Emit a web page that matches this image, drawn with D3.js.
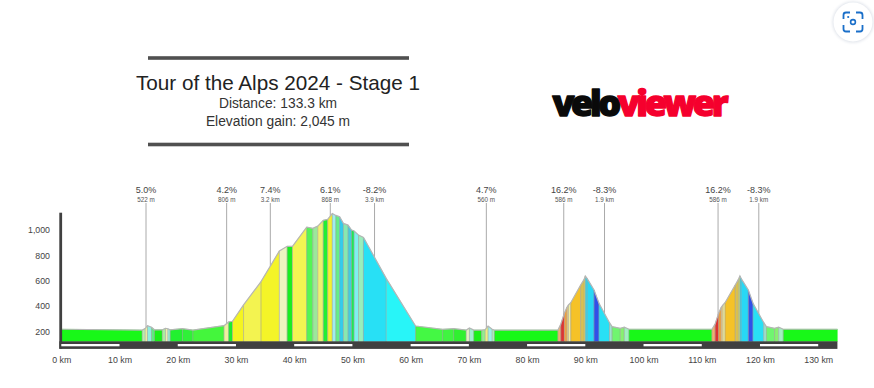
<!DOCTYPE html>
<html><head><meta charset="utf-8">
<script src="https://cdnjs.cloudflare.com/ajax/libs/d3/7.9.0/d3.min.js"></script>
<style>html,body{margin:0;padding:0;background:#fff;overflow:hidden}svg{display:block}text{font-family:"Liberation Sans",Arial,sans-serif}</style>
</head><body><svg id="c" width="874" height="388"></svg>
<script>
const profileKm=[0.1,13.9,14.4,14.8,15.5,16.0,17.35,17.9,18.3,18.7,20.8,22.6,27.95,28.75,29.4,31.3,34.3,37.45,38.8,39.7,42.15,43.2,44.05,45.0,45.75,46.55,47.15,47.8,48.45,49.25,49.85,50.3,51.05,51.9,55.8,60.85,65.5,67.4,69.55,70.1,70.85,72.2,72.8,73.3,74.0,74.4,85.3,85.8,86.4,86.85,87.1,87.5,89.2,89.8,90.0,90.3,91.5,92.35,94.15,94.6,96.0,96.7,97.5,111.75,112.3,112.9,113.35,113.65,114.0,115.75,116.3,116.55,116.75,118.0,118.8,120.65,121.1,122.5,123.2,124.0,133.3];
const profileEle=[216,210,222,245,232,212,212,224,220,212,221,210,245,274,279,408,592,834,871,871,1023,1013,1031,1076,1084,1131,1115,1105,1052,1039,1000,992,960,942,618,242,216,221,210,226,210,210,213,242,216,210,210,258,342,389,408,426,566,610,637,618,526,421,268,237,224,232,216,216,258,342,389,408,426,566,610,637,618,526,421,268,237,224,232,216,216];
const segmentColors=["#18f818","#b8eeb0","#f0f0a0","#90eee0","#60ee80","#18f018","#a8eea0","#f0f0b0","#a0eee0","#22f030","#30f038","#44f63c","#eef0a0","#18ee30","#f4f420","#f3f350","#f4f428","#eef4c0","#18ee20","#f3f552","#55f555","#9be89b","#f0f070","#22ee33","#f5f030","#9eeeee","#66ee88","#33ccee","#88e8b0","#44ccdd","#22e855","#7ff0f0","#99eebb","#28e0f5","#28f5f8","#44f844","#40f440","#30f030","#e4f0c0","#a0eed0","#18f018","#90ee90","#f0f080","#a0eee8","#b0eec0","#18f818","#f0b070","#dd3333","#f0a040","#f0d080","#f0f0a0","#f5c228","#d9c050","#f0e040","#28d8f5","#28d8f5","#3050e8","#28e0f5","#a0e0d0","#70f570","#88f070","#a0f0c0","#18f818","#f0b070","#dd3333","#f0a040","#f0d080","#f0f0a0","#f5c228","#d9c050","#f0e040","#28d8f5","#28d8f5","#3050e8","#28e0f5","#a0e0d0","#70f570","#88f070","#a0f0c0","#18f818"];
const xTickKm=[0,10,20,30,40,50,60,70,80,90,100,110,120,130];
const yTickEle=[200,400,600,800,1000];
const climbKm=[14.55,28.4,35.9,46.2,53.8,73,86.3,93.3,112.8,119.8];
const climbGrade=["5.0%","4.2%","7.4%","6.1%","-8.2%","4.7%","16.2%","-8.3%","16.2%","-8.3%"];
const climbSize=["522 m","806 m","3.2 km","868 m","3.9 km","560 m","586 m","1.9 km","586 m","1.9 km"];
const titleLines=["Tour of the Alps 2024 - Stage 1","Distance: 133.3 km","Elevation gain: 2,045 m"];

const svg=d3.select("#c");
const x=d3.scaleLinear().domain([0,130]).range([61.3,818.2]);
const y=d3.scaleLinear().domain([200,1000]).range([331.3,230]);
const baseEle=y.invert(341.5), ink="#444";
const eleAt=d3.scaleLinear().domain(profileKm).range(profileEle);
const fmt=d3.format(",");

const defs=svg.append("defs");
defs.append("filter").attr("id","soft").attr("x","-40%").attr("y","-40%").attr("width","180%").attr("height","180%")
  .append("feGaussianBlur").attr("stdDeviation",1.6);

// title block
[58,144.5].forEach(v=>svg.append("rect").attr("x",148).attr("y",v-1.8).attr("width",261).attr("height",3.6).attr("fill","#505050"));
svg.append("text").attr("x",278).attr("y",90).attr("text-anchor","middle").attr("font-size",20.7).attr("fill","#222").text(titleLines[0]);
svg.append("text").attr("x",278).attr("y",108).attr("text-anchor","middle").attr("font-size",13.8).attr("fill","#333").text(titleLines[1]);
svg.append("text").attr("x",278).attr("y",126).attr("text-anchor","middle").attr("font-size",13.8).attr("fill","#333").text(titleLines[2]);

// logo
const logo=svg.append("text").attr("x",552.5).attr("y",116).attr("font-size",36).attr("font-weight",800)
  .style("font-family","'Open Sans'").style("letter-spacing","-3.4px").attr("stroke-width",1.4).attr("stroke-linejoin","round");
logo.append("tspan").attr("fill","#0a0a0a").attr("stroke","#0a0a0a").text("velo");
logo.append("tspan").attr("fill","#f5002d").attr("stroke","#f5002d").text("viewer");

// lens button
const lens=svg.append("g").attr("transform","translate(853,22)");
lens.append("circle").attr("r",20.5).attr("fill","#dfe3ea").attr("filter","url(#soft)");
lens.append("circle").attr("r",19.5).attr("fill","#fff");
lens.append("path").attr("d","M-9.5,-3 V-7 Q-9.5,-9.5 -7,-9.5 H-3 M3,-9.5 H7 Q9.5,-9.5 9.5,-7 V-3 M9.5,3 V7 Q9.5,9.5 7,9.5 H3 M-3,9.5 H-7 Q-9.5,9.5 -9.5,7 V3")
  .attr("fill","none").attr("stroke","#1a6fc9").attr("stroke-width",1.8);
lens.append("circle").attr("r",2.4).attr("fill","none").attr("stroke","#1a6fc9").attr("stroke-width",1.6);
lens.append("circle").attr("cx",-4.8).attr("cy",-5).attr("r",1.1).attr("fill","#1a6fc9");

// climb callouts
climbKm.forEach((k,i)=>{
  svg.append("line").attr("x1",x(k)).attr("x2",x(k)).attr("y1",203).attr("y2",y(eleAt(k))).attr("stroke","#aaa").attr("stroke-width",1);
  svg.append("text").attr("x",x(k)).attr("y",192.5).attr("text-anchor","middle").attr("font-size",9).attr("fill",ink).text(climbGrade[i]);
  svg.append("text").attr("x",x(k)).attr("y",201.5).attr("text-anchor","middle").attr("font-size",6.3).attr("fill","#555").text(climbSize[i]);
});

// coloured gradient segments
const area=d3.area().x(d=>x(d[0])).y0(y(baseEle)).y1(d=>y(d[1]));
segmentColors.forEach((c,i)=>{
  const pts=[[profileKm[i],profileEle[i]],[profileKm[i+1],profileEle[i+1]]];
  svg.append("path").attr("d",area(pts)).attr("fill",c).attr("stroke",c).attr("stroke-width",0.3);
});
profileKm.slice(1,-1).forEach((k,i)=>{
  svg.append("line").attr("x1",x(k)).attr("x2",x(k)).attr("y1",y(profileEle[i+1])).attr("y2",y(baseEle)).attr("stroke","#999").attr("stroke-opacity",0.55).attr("stroke-width",1);
});
svg.append("path").attr("d",d3.line().x((d,i)=>x(profileKm[i])).y((d,i)=>y(profileEle[i]))(profileKm)).attr("fill","none").attr("stroke","#b5b5b5").attr("stroke-width",1.2);

// axis band
svg.append("rect").attr("x",59.3).attr("y",341.3).attr("width",x(133.3)-59.3).attr("height",7.6).attr("fill","#404040");
svg.append("rect").attr("x",59.3).attr("y",212.7).attr("width",2.8).attr("height",136).attr("fill","#404040");
xTickKm.filter((d,i)=>i%2===0&&d<130).forEach(k=>{
  svg.append("rect").attr("x",x(k)).attr("y",344).attr("width",x(k+10)-x(k)).attr("height",2.3).attr("fill","#fff");
});

// axes
const xAxis=svg.append("g").attr("transform","translate(0,352)").call(d3.axisBottom(x).tickValues(xTickKm).tickSize(0).tickPadding(5).tickFormat(d=>d+" km"));
const yAxis=svg.append("g").attr("transform","translate(50,0)").call(d3.axisLeft(y).tickValues(yTickEle).tickSize(0).tickPadding(0).tickFormat(fmt));
[xAxis,yAxis].forEach(a=>{a.select(".domain").remove();a.selectAll("text").attr("font-family",'"Liberation Sans",Arial,sans-serif').attr("font-size",8.8).attr("fill",ink);});
</script></body></html>
